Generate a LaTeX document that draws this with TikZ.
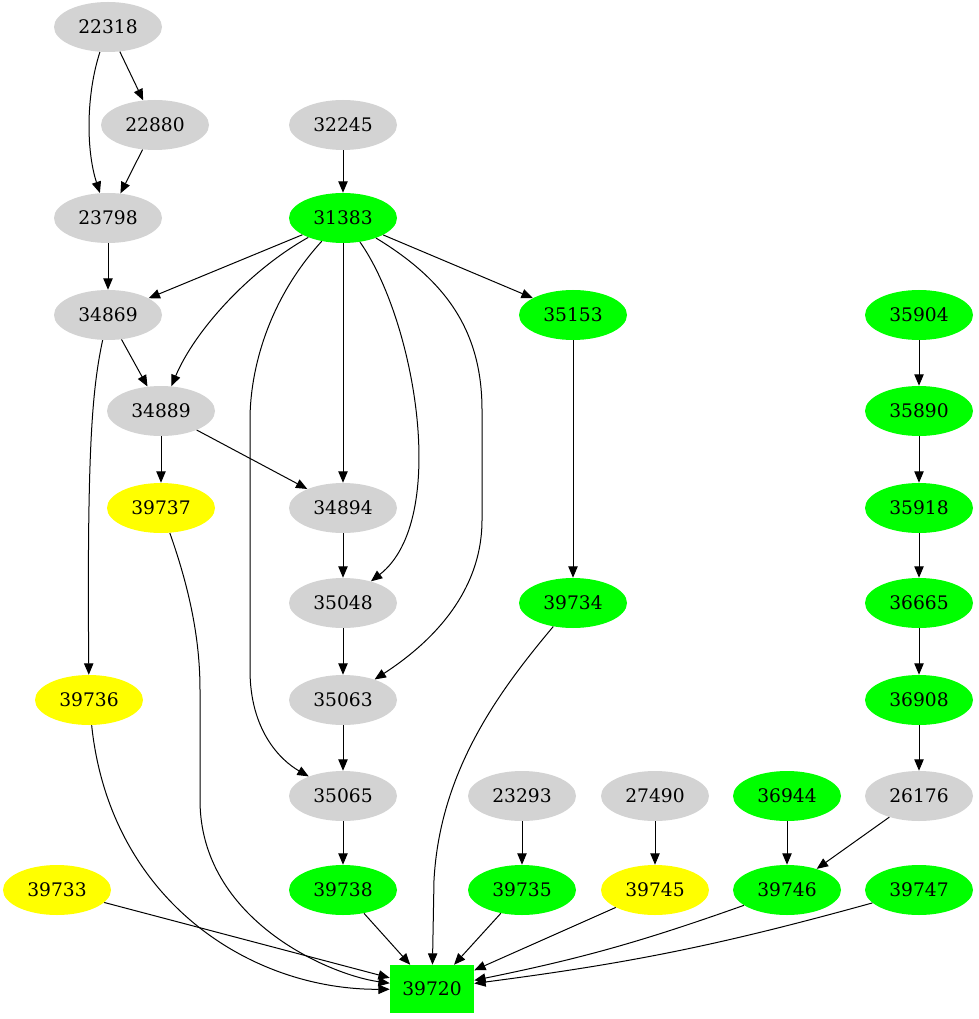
\documentclass[tikz,border=0pt]{standalone}
\usepackage{fontspec}
\setmainfont{DejaVu Serif}
\usetikzlibrary{arrows.meta,shapes.geometric}

\definecolor{gvgray}{RGB}{211,211,211}
\definecolor{gvgreen}{RGB}{0,255,0}
\definecolor{gvyellow}{RGB}{255,255,0}

\tikzset{
  job/.style={ellipse, minimum width=81pt, minimum height=37.5pt, inner sep=0pt,
    font=\fontsize{14}{16}\selectfont},
  grayjob/.style={job, fill=gvgray},
  greenjob/.style={job, fill=gvgreen},
  yellowjob/.style={job, fill=gvyellow},
  dep/.style={-{Triangle[length=8.5pt,width=7pt]}, line width=0.75pt}
}

\begin{document}
\begin{tikzpicture}[x=0.75pt,y=-0.75pt]
\useasboundingbox (0,0) rectangle (978,1019);

% Nodes
\node[grayjob] (n22318) at (108,27) {22318};
\node[grayjob] (n22880) at (155,125) {22880};
\node[grayjob] (n32245) at (343,125) {32245};
\node[grayjob] (n23798) at (108,218) {23798};
\node[greenjob] (n31383) at (343,218) {31383};
\node[grayjob] (n34869) at (108,315) {34869};
\node[greenjob] (n35153) at (573,315) {35153};
\node[greenjob] (n35904) at (919,315) {35904};
\node[grayjob] (n34889) at (161,411) {34889};
\node[greenjob] (n35890) at (919,411) {35890};
\node[yellowjob] (n39737) at (161,508) {39737};
\node[grayjob] (n34894) at (343,508) {34894};
\node[greenjob] (n35918) at (919,508) {35918};
\node[grayjob] (n35048) at (343,603) {35048};
\node[greenjob] (n39734) at (573,603) {39734};
\node[greenjob] (n36665) at (919,603) {36665};
\node[yellowjob] (n39736) at (89,700) {39736};
\node[grayjob] (n35063) at (343,700) {35063};
\node[greenjob] (n36908) at (919,700) {36908};
\node[grayjob] (n35065) at (343,796) {35065};
\node[grayjob] (n23293) at (522,796) {23293};
\node[grayjob] (n27490) at (655,796) {27490};
\node[greenjob] (n36944) at (787,796) {36944};
\node[grayjob] (n26176) at (919,796) {26176};
\node[yellowjob] (n39733) at (57,890) {39733};
\node[greenjob] (n39738) at (343,890) {39738};
\node[greenjob] (n39735) at (522,890) {39735};
\node[yellowjob] (n39745) at (655,890) {39745};
\node[greenjob] (n39746) at (787,890) {39746};
\node[greenjob] (n39747) at (919,890) {39747};
\node[rectangle, fill=gvgreen, minimum width=63pt, minimum height=36pt, inner sep=0pt,
  font=\fontsize{14}{16}\selectfont] (n39720) at (432,989) {39720};

% Edges
\draw[dep] (n22318) -- (n22880);
\draw[dep] (n22318) .. controls (86,95) and (86,150) .. (n23798);
\draw[dep] (n22880) -- (n23798);
\draw[dep] (n32245) -- (n31383);
\draw[dep] (n23798) -- (n34869);
\draw[dep] (n31383) -- (n34869);
\draw[dep] (n31383) .. controls (250,270) and (195,330) .. (n34889);
\draw[dep] (n31383) .. controls (268,300) and (250,370) .. (250,420) -- (250,670)
  .. controls (250,730) and (280,760) .. (n35065);
\draw[dep] (n31383) -- (n34894);
\draw[dep] (n31383) .. controls (415,320) and (450,520) .. (n35048);
\draw[dep] (n31383) .. controls (445,280) and (482,330) .. (482,410) -- (482,520)
  .. controls (482,600) and (420,650) .. (n35063);
\draw[dep] (n31383) -- (n35153);
\draw[dep] (n34869) -- (n34889);
\draw[dep] (n34869) .. controls (92,390) and (87,450) .. (n39736);
\draw[dep] (n34889) -- (n39737);
\draw[dep] (n34889) -- (n34894);
\draw[dep] (n34894) -- (n35048);
\draw[dep] (n35048) -- (n35063);
\draw[dep] (n35063) -- (n35065);
\draw[dep] (n35153) -- (n39734);
\draw[dep] (n35904) -- (n35890);
\draw[dep] (n35890) -- (n35918);
\draw[dep] (n35918) -- (n36665);
\draw[dep] (n36665) -- (n36908);
\draw[dep] (n36908) -- (n26176);
\draw[dep] (n35065) -- (n39738);
\draw[dep] (n23293) -- (n39735);
\draw[dep] (n27490) -- (n39745);
\draw[dep] (n36944) -- (n39746);
\draw[dep] (n26176) -- (n39746);

% Into 39720
\draw[dep] (n39733) -- (n39720);
\draw[dep] (n39736) .. controls (110,900) and (250,990) .. (n39720);
\draw[dep] (n39737) .. controls (190,590) and (200,640) .. (200,690) -- (200,800)
  .. controls (200,920) and (330,975) .. (n39720);
\draw[dep] (n39738) -- (n39720);
\draw[dep] (n39734) .. controls (500,690) and (440,770) .. (434,880) -- (n39720);
\draw[dep] (n39735) -- (n39720);
\draw[dep] (n39745) -- (n39720);
\draw[dep] (n39746) to[bend left=4] (n39720);
\draw[dep] (n39747) to[bend left=4] (n39720);
\end{tikzpicture}
\end{document}
